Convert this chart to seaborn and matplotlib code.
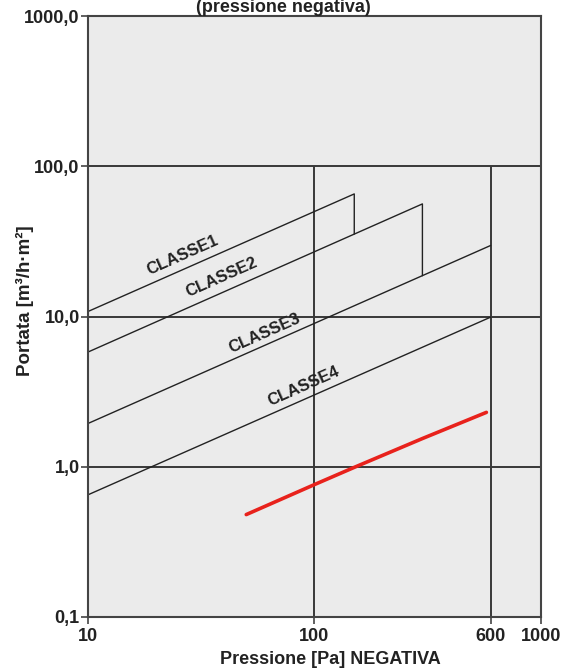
import matplotlib
matplotlib.use("Agg")
import matplotlib.pyplot as plt
import seaborn as sns
import pandas as pd

sns.set_theme(style="white")
plt.rcParams["font.family"] = ["Liberation Sans", "DejaVu Sans"]

# values (pressure Pa, flow m3/h.m2)
classe1_p = [10, 150, 150]
classe1_q = [10.8, 65.5, 35.4]
classe2_p = [10, 300, 300]
classe2_q = [5.8, 56.2, 18.7]
classe3_p = [10, 600]
classe3_q = [1.94, 29.7]
classe4_p = [10, 600]
classe4_q = [0.65, 9.9]
test_p = [50, 100, 150, 300, 575]
test_q = [0.48, 0.76, 0.99, 1.54, 2.30]

class_names = ["CLASSE1", "CLASSE2", "CLASSE3", "CLASSE4"]
label_p = [26.2, 39.1, 60.4, 89.9]
label_q = [25.5, 18.2, 7.7, 3.41]

x_ticks = [10, 100, 600, 1000]
x_ticklabels = ["10", "100", "600", "1000"]
y_ticks = [0.1, 1, 10, 100, 1000]
y_ticklabels = ["0,1", "1,0", "10,0", "100,0", "1000,0"]

fig = plt.figure(figsize=(5.79, 6.72), dpi=100)
ax = fig.add_axes([0.152, 0.082, 0.782, 0.894])
ax.set_facecolor("#ebebeb")
ax.set_xscale("log")
ax.set_yscale("log")
ax.set_xlim(10, 1000)
ax.set_ylim(0.1, 1000)

grid_c = "#383838"
for yv in [1, 10, 100]:
    ax.axhline(yv, color=grid_c, lw=1.4, zorder=1)
ax.vlines([100, 600], 0.1, 100, color=grid_c, lw=1.4, zorder=1)

curves = [(classe1_p, classe1_q), (classe2_p, classe2_q),
          (classe3_p, classe3_q), (classe4_p, classe4_q)]
for p, q in curves:
    sns.lineplot(x=p, y=q, sort=False, estimator=None, color="#222222",
                 lw=1.0, ax=ax, zorder=2)

sns.lineplot(x=test_p, y=test_q, sort=False, estimator=None, color="#e8221c",
             lw=2.6, ax=ax, zorder=3)

for name, xp, yq in zip(class_names, label_p, label_q):
    ax.text(xp, yq, name, rotation=24, ha="center", va="center",
            fontsize=12, fontweight="bold", color="#222222", zorder=4,
            rotation_mode="anchor")

ax.set_xticks(x_ticks)
ax.set_xticklabels(x_ticklabels)
ax.set_yticks(y_ticks)
ax.set_yticklabels(y_ticklabels)
ax.minorticks_off()
ax.tick_params(axis="both", which="major", direction="out", length=5,
               width=1.2, color="#444444", labelsize=13, pad=1,
               bottom=True, left=True)
ax.tick_params(axis="x", pad=3)
for lbl in ax.get_xticklabels() + ax.get_yticklabels():
    lbl.set_fontweight("bold")
    lbl.set_color("#222222")

for s in ax.spines.values():
    s.set_color("#444444")
    s.set_linewidth(1.5)

ax.set_xlabel("Pressione [Pa] NEGATIVA", fontsize=13, fontweight="bold",
              color="#222222")
ax.xaxis.set_label_coords(0.536, -0.056)
ax.set_ylabel("Portata [m³/h·m²]", fontsize=13.5, fontweight="bold",
              color="#222222")
ax.yaxis.set_label_coords(-0.119, 0.527)

fig.text(0.489, 0.989, "(pressione negativa)", ha="center", va="center",
         fontsize=13, fontweight="bold", color="#222222")

fig.savefig("out.png", dpi=100)
